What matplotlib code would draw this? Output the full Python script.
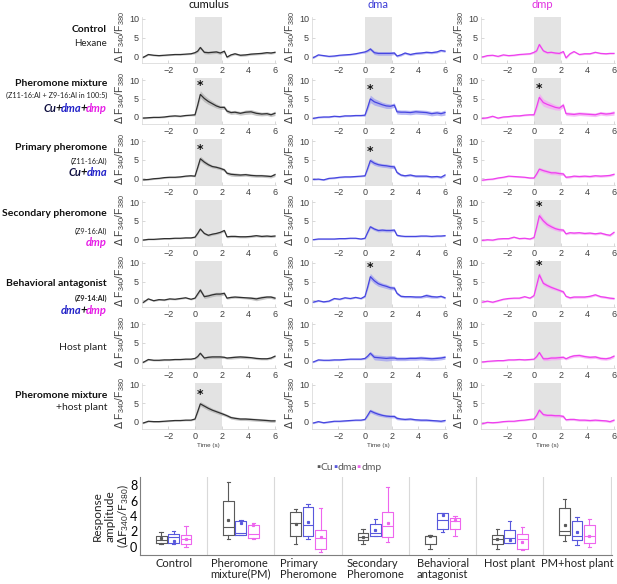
import matplotlib.pyplot as plt
import numpy as np

plt.rcParams['font.family'] = ['Lato', 'DejaVu Sans']

# time axis of the calcium traces (s)
t_sec = [-3.9, -3.5, -3.1, -2.7, -2.3, -1.9, -1.5, -1.1, -0.7, -0.3, 0.0, 0.2, 0.4, 0.7, 1.0,
         1.3, 1.6, 1.9, 2.2, 2.4, 2.7, 3.0, 3.4, 3.8, 4.2, 4.6, 5.0, 5.4, 5.7, 6.0]

# mean dF340/F380 traces, cumulus
cu_control = [-0.4, 0.4, 0.2, 0.1, 0.2, 0.3, 0.4, 0.4, 0.5, 0.6, 0.9, 1.3, 2.3, 1.0, 0.9, 1.0, 1.1, 0.8, 1.3, -0.3, 0.3, 0.6, 0.2, 0.3, 0.5, 0.6, 0.7, 0.9, 0.8, 1.0]
cu_pm = [-0.3, -0.2, -0.1, -0.1, 0.0, 0.2, 0.3, 0.2, 0.4, 0.5, 0.6, 3.2, 6.1, 5.0, 4.2, 3.6, 3.0, 2.6, 2.6, 1.6, 1.2, 1.3, 1.0, 1.3, 1.4, 1.0, 0.8, 0.9, 0.6, 1.0]
cu_primary = [-0.5, -0.4, -0.2, -0.1, 0.1, 0.2, 0.2, 0.3, 0.5, 0.6, 0.5, 2.8, 5.2, 4.3, 3.6, 3.1, 2.9, 2.6, 2.2, 1.3, 1.0, 0.9, 0.8, 0.9, 0.7, 0.6, 0.6, 0.5, 0.4, 0.9]
cu_secondary = [-0.3, -0.1, -0.1, 0.0, 0.1, 0.1, 0.2, 0.2, 0.3, 0.3, 0.5, 1.5, 2.7, 1.5, 1.0, 1.3, 1.5, 1.8, 2.3, 0.6, 0.7, 0.7, 0.6, 0.6, 0.7, 0.9, 0.7, 0.8, 0.7, 0.8]
cu_antag = [-0.7, 0.3, -0.2, 0.1, 0.0, 0.3, 0.2, 0.4, 0.6, 0.2, 0.5, 1.6, 2.7, 0.9, 1.1, 1.4, 1.6, 1.6, 1.8, 0.5, 0.7, 0.8, 0.7, 0.6, 0.5, 0.3, 0.6, 0.8, 0.8, 0.5]
cu_host = [-0.4, 0.4, 0.2, 0.2, 0.3, 0.3, 0.4, 0.4, 0.5, 0.5, 0.7, 1.2, 2.1, 0.8, 1.0, 1.1, 1.1, 1.1, 1.0, 0.8, 0.9, 1.0, 1.1, 1.0, 0.9, 0.7, 0.6, 0.6, 0.8, 1.3]
cu_pm_host = [-0.3, 0.2, 0.1, 0.1, 0.2, 0.3, 0.4, 0.4, 0.5, 0.5, 0.8, 2.8, 4.9, 4.3, 3.7, 3.2, 2.8, 2.4, 2.0, 1.7, 1.2, 1.0, 0.8, 0.8, 0.7, 0.6, 0.5, 0.4, 0.3, 0.3]

# mean traces, dma
dma_control = [-0.5, 0.3, 0.1, -0.1, 0.0, 0.2, 0.3, 0.4, 0.6, 0.9, 1.1, 1.4, 1.9, 0.9, 0.7, 0.7, 0.7, 0.7, 0.8, 0.0, 0.3, 0.8, 0.4, 0.7, 0.8, 1.0, 0.9, 1.1, 1.5, 1.3]
dma_pm = [-0.4, -0.1, 0.0, 0.0, 0.2, 0.1, 0.3, 0.3, 0.4, 0.4, 0.5, 2.6, 4.9, 4.1, 3.7, 3.3, 3.0, 2.9, 3.2, 1.4, 1.3, 1.3, 1.2, 1.4, 1.3, 1.2, 0.9, 1.1, 0.9, 1.2]
dma_primary = [-0.4, -0.3, -0.5, -0.1, 0.0, 0.2, 0.3, 0.3, 0.4, 0.5, 0.6, 2.6, 4.7, 4.0, 3.6, 3.4, 3.3, 3.1, 3.0, 1.5, 0.8, 0.6, 0.8, 0.5, 0.5, 0.5, 0.3, 0.4, 0.2, 0.8]
dma_secondary = [-0.2, 0.0, 0.0, 0.0, 0.0, 0.1, 0.1, 0.2, 0.2, 0.0, 0.2, 1.8, 3.3, 2.7, 2.3, 2.4, 2.3, 2.3, 2.4, 1.0, 0.8, 0.7, 0.7, 0.7, 0.8, 0.8, 0.7, 0.8, 0.8, 0.9]
dma_antag = [-0.6, -0.2, -0.5, -0.3, 0.4, 0.2, 0.6, 0.4, 0.7, 0.4, 1.0, 3.5, 6.3, 5.2, 4.4, 4.0, 3.7, 3.3, 3.2, 1.8, 1.0, 0.9, 0.9, 0.8, 0.8, 1.2, 0.9, 0.8, 1.0, 0.6]
dma_host = [-0.3, 0.3, 0.2, 0.2, 0.3, 0.3, 0.4, 0.5, 0.5, 0.5, 0.7, 1.3, 2.1, 1.0, 0.9, 0.8, 0.7, 0.8, 0.8, 0.6, 0.6, 0.6, 0.7, 0.7, 0.8, 0.7, 0.6, 0.7, 0.8, 1.0]
dma_pm_host = [-0.3, 0.1, -0.2, 0.0, 0.2, 0.2, 0.3, 0.4, 0.5, 0.5, 0.7, 1.8, 3.0, 2.5, 2.1, 1.8, 1.6, 1.5, 1.5, 1.0, 0.8, 0.7, 0.8, 0.6, 0.5, 0.5, 0.4, 0.3, 0.2, 0.4]

# mean traces, dmp
dmp_control = [-0.3, 0.1, 0.2, -0.1, 0.3, 0.1, 0.2, 0.4, 0.5, 0.6, 1.0, 1.4, 3.1, 1.4, 0.9, 1.0, 0.8, 0.7, 1.2, -0.5, 0.6, 1.2, 0.4, 0.6, 0.6, 1.0, 0.7, 0.6, 0.7, 0.7]
dmp_pm = [-0.4, -0.2, 0.2, -0.3, 0.0, 0.1, 0.3, 0.3, 0.5, 0.6, 0.6, 2.8, 5.3, 3.9, 3.4, 3.0, 2.6, 2.4, 3.2, 0.9, 0.8, 0.7, 0.9, 0.8, 0.7, 0.6, 1.0, 0.8, 0.9, 1.1]
dmp_primary = [-0.6, -0.4, -0.3, 0.0, 0.2, 0.5, 0.4, 0.3, 0.2, 0.0, 0.0, 1.1, 2.4, 2.0, 1.7, 1.4, 1.4, 1.2, 1.1, 0.2, 0.3, 0.5, 0.4, 0.5, 0.4, 0.6, 0.5, 0.6, 0.7, 1.0]
dmp_secondary = [-0.4, -0.2, -0.3, 0.0, 0.1, 0.1, 0.5, 0.1, 0.2, 0.0, 0.4, 3.2, 6.3, 4.9, 3.9, 3.3, 2.8, 2.5, 2.4, 1.4, 1.7, 1.6, 1.7, 1.5, 1.6, 1.4, 1.6, 1.2, 1.0, 1.8]
dmp_antag = [-0.6, -0.3, -0.6, -0.2, 0.2, 0.4, 0.5, 0.5, 0.9, 0.5, 1.2, 4.0, 6.8, 4.5, 3.9, 3.4, 3.0, 2.6, 2.2, 1.0, 0.6, 0.8, 0.8, 0.8, 1.0, 1.4, 0.9, 0.7, 0.5, 0.4]
dmp_host = [-0.3, -0.1, 0.0, 0.1, 0.1, 0.3, 0.3, 0.4, 0.3, 0.4, 0.5, 1.2, 2.3, 0.6, 0.6, 0.8, 0.8, 0.9, 1.0, 0.6, 1.1, 1.4, 1.5, 1.2, 1.0, 1.1, 0.7, 0.6, 0.8, 1.3]
dmp_pm_host = [-0.5, -0.1, -0.2, -0.1, 0.1, 0.2, 0.2, 0.4, 0.5, 0.7, 0.8, 1.8, 3.2, 2.0, 1.8, 1.8, 1.7, 1.7, 1.5, 0.6, 0.7, 0.7, 0.5, 0.5, 0.4, 0.5, 0.4, 0.3, 0.1, 0.5]

# SEM of each trace
cu_control_sem = [0.2, 0.2, 0.2, 0.2, 0.2, 0.2, 0.2, 0.2, 0.2, 0.2, 0.3, 0.3, 0.4, 0.4, 0.4, 0.4, 0.4, 0.4, 0.3, 0.3, 0.3, 0.3, 0.3, 0.3, 0.3, 0.3, 0.3, 0.3, 0.3, 0.3]
cu_pm_sem = [0.2, 0.2, 0.2, 0.2, 0.2, 0.2, 0.2, 0.2, 0.2, 0.2, 0.3, 0.7, 1.0, 0.9, 0.8, 0.7, 0.6, 0.5, 0.5, 0.5, 0.5, 0.5, 0.5, 0.6, 0.6, 0.6, 0.5, 0.5, 0.5, 0.6]
cu_primary_sem = [0.2, 0.2, 0.2, 0.2, 0.2, 0.2, 0.2, 0.2, 0.2, 0.2, 0.2, 0.5, 0.7, 0.6, 0.5, 0.4, 0.4, 0.4, 0.4, 0.4, 0.5, 0.5, 0.4, 0.4, 0.4, 0.4, 0.4, 0.4, 0.4, 0.5]
cu_secondary_sem = [0.15, 0.15, 0.15, 0.15, 0.15, 0.15, 0.15, 0.15, 0.15, 0.15, 0.2, 0.3, 0.3, 0.3, 0.3, 0.3, 0.3, 0.3, 0.3, 0.3, 0.3, 0.3, 0.3, 0.3, 0.3, 0.3, 0.3, 0.3, 0.3, 0.3]
cu_antag_sem = [0.2, 0.2, 0.2, 0.2, 0.2, 0.2, 0.2, 0.2, 0.2, 0.2, 0.2, 0.4, 0.5, 0.5, 0.5, 0.5, 0.5, 0.5, 0.4, 0.3, 0.3, 0.3, 0.3, 0.3, 0.4, 0.5, 0.5, 0.4, 0.4, 0.4]
cu_host_sem = [0.2, 0.2, 0.2, 0.2, 0.2, 0.2, 0.2, 0.2, 0.2, 0.2, 0.2, 0.3, 0.3, 0.4, 0.4, 0.4, 0.4, 0.4, 0.3, 0.3, 0.4, 0.4, 0.4, 0.4, 0.3, 0.3, 0.3, 0.3, 0.3, 0.3]
cu_pm_host_sem = [0.2, 0.2, 0.2, 0.2, 0.2, 0.2, 0.2, 0.2, 0.2, 0.2, 0.2, 0.5, 0.6, 0.6, 0.6, 0.5, 0.5, 0.5, 0.4, 0.4, 0.4, 0.4, 0.4, 0.4, 0.4, 0.4, 0.4, 0.4, 0.4, 0.4]
dma_control_sem = [0.2, 0.2, 0.2, 0.2, 0.2, 0.2, 0.2, 0.2, 0.2, 0.2, 0.3, 0.3, 0.4, 0.5, 0.5, 0.5, 0.5, 0.5, 0.4, 0.3, 0.3, 0.3, 0.3, 0.3, 0.3, 0.3, 0.3, 0.3, 0.3, 0.3]
dma_pm_sem = [0.2, 0.2, 0.2, 0.2, 0.2, 0.2, 0.2, 0.2, 0.2, 0.2, 0.3, 0.7, 1.0, 0.9, 0.8, 0.7, 0.7, 0.6, 0.6, 0.6, 0.6, 0.6, 0.6, 0.6, 0.6, 0.6, 0.6, 0.6, 0.6, 0.7]
dma_primary_sem = [0.2, 0.2, 0.2, 0.2, 0.2, 0.2, 0.2, 0.2, 0.2, 0.2, 0.2, 0.5, 0.6, 0.6, 0.5, 0.5, 0.5, 0.5, 0.5, 0.4, 0.3, 0.3, 0.3, 0.3, 0.3, 0.3, 0.3, 0.3, 0.3, 0.4]
dma_secondary_sem = [0.15, 0.15, 0.15, 0.15, 0.15, 0.15, 0.15, 0.15, 0.15, 0.15, 0.2, 0.3, 0.4, 0.4, 0.4, 0.4, 0.4, 0.4, 0.4, 0.3, 0.2, 0.2, 0.2, 0.2, 0.2, 0.2, 0.2, 0.2, 0.2, 0.2]
dma_antag_sem = [0.2, 0.2, 0.2, 0.2, 0.2, 0.2, 0.2, 0.2, 0.2, 0.2, 0.3, 0.6, 0.9, 0.8, 0.7, 0.6, 0.6, 0.5, 0.5, 0.4, 0.3, 0.3, 0.3, 0.3, 0.3, 0.5, 0.4, 0.3, 0.3, 0.3]
dma_host_sem = [0.2, 0.2, 0.2, 0.2, 0.2, 0.2, 0.2, 0.2, 0.2, 0.2, 0.3, 0.4, 0.5, 0.7, 0.7, 0.7, 0.7, 0.7, 0.6, 0.5, 0.5, 0.5, 0.5, 0.5, 0.5, 0.5, 0.5, 0.5, 0.5, 0.5]
dma_pm_host_sem = [0.2, 0.2, 0.2, 0.2, 0.2, 0.2, 0.2, 0.2, 0.2, 0.2, 0.2, 0.4, 0.5, 0.5, 0.5, 0.4, 0.4, 0.4, 0.4, 0.4, 0.3, 0.3, 0.3, 0.3, 0.3, 0.3, 0.3, 0.3, 0.3, 0.3]
dmp_control_sem = [0.2, 0.2, 0.2, 0.2, 0.2, 0.2, 0.2, 0.2, 0.2, 0.2, 0.3, 0.3, 0.5, 0.4, 0.3, 0.3, 0.3, 0.3, 0.3, 0.3, 0.2, 0.2, 0.2, 0.2, 0.2, 0.2, 0.2, 0.2, 0.2, 0.2]
dmp_pm_sem = [0.2, 0.2, 0.2, 0.2, 0.2, 0.2, 0.2, 0.2, 0.2, 0.2, 0.3, 0.8, 1.1, 1.0, 0.9, 0.8, 0.7, 0.6, 0.6, 0.5, 0.5, 0.5, 0.5, 0.5, 0.5, 0.5, 0.5, 0.5, 0.5, 0.6]
dmp_primary_sem = [0.2, 0.2, 0.2, 0.2, 0.2, 0.2, 0.2, 0.2, 0.2, 0.2, 0.2, 0.4, 0.5, 0.5, 0.5, 0.5, 0.5, 0.5, 0.4, 0.3, 0.3, 0.3, 0.3, 0.3, 0.3, 0.3, 0.3, 0.3, 0.3, 0.3]
dmp_secondary_sem = [0.2, 0.2, 0.2, 0.2, 0.2, 0.2, 0.2, 0.2, 0.2, 0.2, 0.3, 0.6, 0.9, 0.8, 0.7, 0.6, 0.5, 0.5, 0.4, 0.3, 0.3, 0.3, 0.3, 0.3, 0.3, 0.3, 0.3, 0.3, 0.3, 0.3]
dmp_antag_sem = [0.2, 0.2, 0.2, 0.2, 0.2, 0.2, 0.2, 0.2, 0.2, 0.2, 0.3, 0.6, 0.8, 0.6, 0.5, 0.5, 0.4, 0.4, 0.4, 0.3, 0.3, 0.3, 0.3, 0.3, 0.3, 0.3, 0.3, 0.3, 0.3, 0.3]
dmp_host_sem = [0.2, 0.2, 0.2, 0.2, 0.2, 0.2, 0.2, 0.2, 0.2, 0.2, 0.2, 0.3, 0.4, 0.5, 0.5, 0.5, 0.5, 0.5, 0.4, 0.3, 0.4, 0.4, 0.4, 0.4, 0.4, 0.4, 0.4, 0.4, 0.4, 0.4]
dmp_pm_host_sem = [0.2, 0.2, 0.2, 0.2, 0.2, 0.2, 0.2, 0.2, 0.2, 0.2, 0.2, 0.4, 0.5, 0.4, 0.4, 0.4, 0.4, 0.4, 0.4, 0.3, 0.3, 0.3, 0.3, 0.3, 0.3, 0.3, 0.3, 0.3, 0.3, 0.3]

# significance stars (cu, dma, dmp) for each stimulus row
stars = [[0, 0, 0], [1, 1, 1], [1, 1, 0], [0, 0, 1], [0, 1, 1], [0, 0, 0], [1, 0, 0]]

# response amplitude boxes: [whislo, q1, median, q3, whishi, mean]
categories = ['Control', 'Pheromone\nmixture(PM)', 'Primary\nPheromone', 'Secondary\nPheromone',
              'Behavioral\nantagonist', 'Host plant', 'PM+host plant']
box_cu = [[0.4, 0.55, 0.9, 1.45, 1.9, 1.1],
          [1.0, 1.5, 2.6, 6.0, 8.35, 3.5],
          [0.45, 1.45, 3.05, 4.55, 4.85, 3.0],
          [0.4, 0.9, 1.35, 1.85, 2.3, 1.35],
          [-0.2, 0.4, 1.4, 1.45, 1.5, 1.4],
          [-0.25, 0.4, 1.05, 1.55, 2.3, 1.0],
          [0.75, 1.55, 2.1, 5.05, 6.25, 2.85]]
box_dma = [[0.45, 0.55, 1.25, 1.7, 2.05, 0.8],
           [1.5, 1.5, 1.75, 3.4, 3.5, 3.15],
           [1.0, 1.45, 2.8, 5.2, 5.6, 3.2],
           [1.45, 1.45, 1.8, 2.95, 3.65, 2.25],
           [1.9, 2.3, 3.45, 4.45, 4.45, 4.1],
           [0.5, 0.5, 1.15, 2.25, 3.4, 0.95],
           [0.25, 0.9, 1.45, 3.4, 3.9, 1.9]]
box_dmp = [[0.05, 0.4, 1.05, 1.6, 2.7, 1.05],
           [1.05, 1.1, 1.65, 2.9, 3.05, 2.9],
           [-0.7, -0.25, 1.1, 2.15, 5.0, 1.25],
           [0.6, 1.35, 2.75, 4.5, 7.7, 3.15],
           [1.4, 2.3, 3.35, 3.8, 3.95, 3.45],
           [-0.35, -0.25, 1.05, 1.65, 2.55, 0.6],
           [-0.05, 0.55, 1.4, 2.8, 3.55, 1.45]]

cu_rows = [cu_control, cu_pm, cu_primary, cu_secondary, cu_antag, cu_host, cu_pm_host]
dma_rows = [dma_control, dma_pm, dma_primary, dma_secondary, dma_antag, dma_host, dma_pm_host]
dmp_rows = [dmp_control, dmp_pm, dmp_primary, dmp_secondary, dmp_antag, dmp_host, dmp_pm_host]
cu_sems = [cu_control_sem, cu_pm_sem, cu_primary_sem, cu_secondary_sem, cu_antag_sem, cu_host_sem, cu_pm_host_sem]
dma_sems = [dma_control_sem, dma_pm_sem, dma_primary_sem, dma_secondary_sem, dma_antag_sem, dma_host_sem, dma_pm_host_sem]
dmp_sems = [dmp_control_sem, dmp_pm_sem, dmp_primary_sem, dmp_secondary_sem, dmp_antag_sem, dmp_host_sem, dmp_pm_host_sem]

W, H = 617.0, 584.0
fig = plt.figure(figsize=(6.17, 5.84), dpi=100)
rend = fig.canvas.get_renderer()


def px_axes(left, top, width, height):
    return fig.add_axes([left / W, 1 - (top + height) / H, width / W, height / H])


def pieces(x_px, y_px, parts, size, weight='bold', style='normal', ha='right', squeeze=0.0):
    # draw multi-coloured text, right aligned (or left aligned) at x_px
    x = x_px
    seq = reversed(parts) if ha == 'right' else parts
    for txt, col in seq:
        t = fig.text(x / W, 1 - y_px / H, txt, ha=ha, va='center', color=col,
                     fontsize=size, fontweight=weight, fontstyle=style)
        bb = t.get_window_extent(renderer=rend)
        x = bb.x0 + squeeze if ha == 'right' else bb.x1 - squeeze


line_cols = ['#303030', '#4646e0', '#ee40ee']
band_cols = ['#b0b0b0', '#9c9cf2', '#f6a2f6']
col_zero = [195, 365, 534]
px_s = 13.33
row_zero = [56, 117, 178, 239, 300, 361, 422]
px_unit = 3.7
tick_font = 'Liberation Sans'

for r in range(7):
    for c in range(3):
        mean = np.array([cu_rows, dma_rows, dmp_rows][c][r])
        sem = np.array([cu_sems, dma_sems, dmp_sems][c][r])
        ax = px_axes(col_zero[c] - 4.0 * px_s, row_zero[r] - 10.5 * px_unit, 10.1 * px_s, 12.5 * px_unit)
        ax.axvspan(0, 2, color='#e3e3e3', lw=0, zorder=0)
        ax.fill_between(t_sec, mean - sem, mean + sem, color=band_cols[c], alpha=0.7, lw=0, zorder=1)
        ax.plot(t_sec, mean, color=line_cols[c], lw=0.9, zorder=2)
        ax.set_xlim(-4.0, 6.1)
        ax.set_ylim(-2, 10.5)
        ax.set_xticks([-2, 0, 2, 4, 6])
        ax.set_yticks([0, 5, 10])
        for s in ['top', 'right']:
            ax.spines[s].set_visible(False)
        for s in ['left', 'bottom']:
            ax.spines[s].set_color('#d4d4d4')
            ax.spines[s].set_linewidth(0.5)
        ax.tick_params(direction='in', length=2, width=0.5, color='#c8c8c8',
                       labelsize=6.5, labelcolor='#404040', pad=2)
        for lab in ax.get_xticklabels() + ax.get_yticklabels():
            lab.set_fontfamily(tick_font)
        ax.patch.set_alpha(0)
        if stars[r][c]:
            ax.text(0.4, mean.max() + 2.4, '*', ha='center', va='center', fontsize=9,
                    fontweight='bold', fontfamily='DejaVu Sans', color='#111111')
        fig.text((col_zero[c] - 75) / W, 1 - (row_zero[r] - 19) / H,
                 r'$\Delta$ $\mathregular{F_{340}/F_{380}}$', rotation=90, ha='center', va='center',
                 fontsize=7.5, color='#404040', fontfamily=tick_font)
        if r == 6:
            fig.text((col_zero[c] + 13) / W, 1 - 445 / H, 'Time (s)', ha='center', va='center',
                     fontsize=4.5, color='#404040', fontfamily=tick_font)

# column titles
fig.text(209 / W, 1 - 5 / H, 'cumulus', ha='center', va='center', fontsize=8, color='#111111')
fig.text(378 / W, 1 - 5 / H, 'dma', ha='center', va='center', fontsize=8, color='#3a3ad6')
fig.text(542 / W, 1 - 5 / H, 'dmp', ha='center', va='center', fontsize=8, color='#e030e0')

# stimulus labels on the left
K, B, M = '#111111', '#2222c8', '#e61ee6'
XR = 107
pieces(XR, row_zero[0] - 27, [('Control', K)], 7.5)
pieces(XR, row_zero[0] - 13, [('Hexane', '#222222')], 7, weight='normal')
pieces(XR, row_zero[1] - 34, [('Pheromone mixture', K)], 7.5)
pieces(XR, row_zero[1] - 22, [('(Z11-16:Al + Z9-16:Al in 100:5)', '#222222')], 5.2, weight='normal')
pieces(XR, row_zero[1] - 9, [('Cu', '#101040'), ('+', K), ('dma', B), ('+', K), ('dmp', M)], 8,
       style='italic', squeeze=1.0)
pieces(XR, row_zero[2] - 30, [('Primary pheromone', K)], 7.5)
pieces(XR, row_zero[2] - 17, [('(Z11-16:Al)', '#222222')], 5.2, weight='normal')
pieces(XR, row_zero[2] - 6, [('Cu', '#101040'), ('+', K), ('dma', B)], 8, style='italic', squeeze=1.0)
pieces(XR, row_zero[3] - 25, [('Secondary pheromone', K)], 7.5)
pieces(XR, row_zero[3] - 8, [('(Z9-16:Al)', '#222222')], 5.2, weight='normal')
pieces(XR, row_zero[3] + 3, [('dmp', M)], 8, style='italic')
pieces(XR, row_zero[4] - 17, [('Behavioral antagonist', K)], 7.5)
pieces(XR, row_zero[4] - 2, [('(Z9-14:Al)', '#222222')], 5.2)
pieces(XR, row_zero[4] + 10, [('dma', B), ('+', K), ('dmp', M)], 8, style='italic', squeeze=1.0)
pieces(XR, row_zero[5] - 13, [('Host plant', '#222222')], 7.5, weight='normal')
pieces(XR, row_zero[6] - 26, [('Pheromone mixture', K)], 7.5)
pieces(XR, row_zero[6] - 14, [('+host plant', '#222222')], 7.5, weight='normal')

# response amplitude box plot
box_cols = ['#5a5a5a', '#5858dc', '#ee66ee']
axb = px_axes(140, 477.25, 472, 77.5)
offsets = [-0.185, 0.0, 0.185]
for k, data in enumerate([box_cu, box_dma, box_dmp]):
    stats = [dict(whislo=d[0], q1=d[1], med=d[2], q3=d[3], whishi=d[4], mean=d[5], fliers=[])
             for d in data]
    pos = [g + offsets[k] for g in range(len(data))]
    col = box_cols[k]
    axb.bxp(stats, positions=pos, widths=0.16, showmeans=True, showfliers=False,
            capwidths=0.05, manage_ticks=False,
            boxprops=dict(color=col, lw=0.8), medianprops=dict(color=col, lw=0.8),
            whiskerprops=dict(color=col, lw=0.8), capprops=dict(color=col, lw=0.8),
            meanprops=dict(marker='s', markersize=1.3, markerfacecolor=col, markeredgecolor=col))
for g in range(7):
    axb.axvline(g + 0.5, color='#d9d9d9', lw=0.8, zorder=0)
axb.set_xlim(-0.5, 6.52)
axb.set_ylim(-1, 9)
axb.set_yticks([0, 2, 4, 6, 8])
axb.set_xticks(range(7))
axb.set_xticklabels(categories, fontsize=8, color='#222222', multialignment='left', linespacing=0.95)
axb.tick_params(length=0, labelsize=9, pad=2)
axb.tick_params(axis='x', labelsize=8, pad=2.5)
for s in ['top', 'right']:
    axb.spines[s].set_visible(False)
for s in ['left', 'bottom']:
    axb.spines[s].set_color('#7f7f7f')
    axb.spines[s].set_linewidth(0.8)

fig.text(97 / W, 1 - 516 / H, 'Response', rotation=90, ha='center', va='center', fontsize=8.5, color='#222222')
fig.text(110 / W, 1 - 516 / H, 'amplitude', rotation=90, ha='center', va='center', fontsize=8.5, color='#222222')
fig.text(123 / W, 1 - 516 / H, r'($\Delta\mathregular{F_{340}/F_{380}}$)', rotation=90, ha='center',
         va='center', fontsize=8.5, color='#222222')

# legend
pieces(316, 468, [('\u25aa', box_cols[0]), ('Cu', '#595959'), ('\u25aa', box_cols[1]), ('dma', '#595959'),
                  ('\u25aa', box_cols[2]), ('dmp', '#595959')], 7.5, weight='normal', ha='left')

fig.savefig('out.png', dpi=100)
